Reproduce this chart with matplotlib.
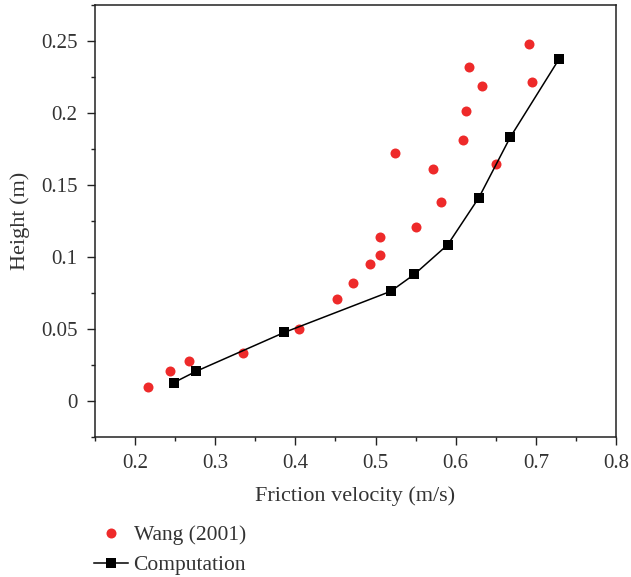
import matplotlib
matplotlib.use("Agg")
import matplotlib.pyplot as plt
from matplotlib.ticker import MultipleLocator

plt.rcParams['font.family'] = ['Liberation Serif', 'DejaVu Serif']

wang_x = [0.216, 0.244, 0.267, 0.335, 0.405, 0.452, 0.472, 0.493, 0.506, 0.506,
          0.551, 0.582, 0.524, 0.572, 0.609, 0.613, 0.616, 0.633, 0.650, 0.692, 0.695]
wang_y = [0.0095, 0.0208, 0.0275, 0.0333, 0.0501, 0.0711, 0.0817, 0.0949, 0.1011, 0.114,
          0.121, 0.1385, 0.1722, 0.1609, 0.1814, 0.2011, 0.2323, 0.219, 0.1644, 0.2481, 0.2212]

comp_x = [0.248, 0.276, 0.386, 0.519, 0.5485, 0.590, 0.629, 0.668, 0.729]
comp_y = [0.0127, 0.0206, 0.0476, 0.0762, 0.088, 0.1085, 0.1413, 0.1831, 0.2375]

xticks = [0.2, 0.3, 0.4, 0.5, 0.6, 0.7, 0.8]
xticklabels = ['0.2', '0.3', '0.4', '0.5', '0.6', '0.7', '0.8']
yticks = [0, 0.05, 0.1, 0.15, 0.2, 0.25]
yticklabels = ['0', '0.05', '0.1', '0.15', '0.2', '0.25']

txt = '#333333'
fig = plt.figure(figsize=(6.31, 5.77), dpi=100)
ax = fig.add_axes([0.1506, 0.2426, 0.8256, 0.7487])

h1, = ax.plot(wang_x, wang_y, linestyle='none', marker='o', markersize=7.2,
              color='#ee2a2a', markeredgewidth=0, label='Wang (2001)')
h2, = ax.plot(comp_x, comp_y, color='black', linewidth=1.1, marker='s',
              markersize=6.5, markeredgewidth=0, label='Computation')

ax.set_xlim(0.15, 0.8)
ax.set_ylim(-0.025, 0.275)
ax.set_xticks(xticks)
ax.set_xticklabels(xticklabels)
ax.set_yticks(yticks)
ax.set_yticklabels(yticklabels)
ax.xaxis.set_minor_locator(MultipleLocator(0.05))
ax.yaxis.set_minor_locator(MultipleLocator(0.025))
ax.tick_params(which='both', direction='out', top=False, right=False,
               labelsize=15, labelcolor=txt, color='#222222', width=1.0)
ax.tick_params(which='major', length=5.5, pad=7)
ax.tick_params(which='minor', length=3)
for s in ax.spines.values():
    s.set_color('#222222')
    s.set_linewidth(1.1)

ax.set_xlabel('Friction velocity (m/s)', fontsize=16, color=txt, labelpad=9)
ax.set_ylabel('Height (m)', fontsize=16, color=txt, labelpad=8)

fig.legend(handles=[h1, h2], loc='upper left', bbox_to_anchor=(0.135, 0.1046),
           frameon=False, fontsize=15.5, labelcolor=txt, handlelength=1.6,
           handletextpad=0.25, labelspacing=0.45, borderaxespad=0)

fig.savefig('out.png', dpi=100)
